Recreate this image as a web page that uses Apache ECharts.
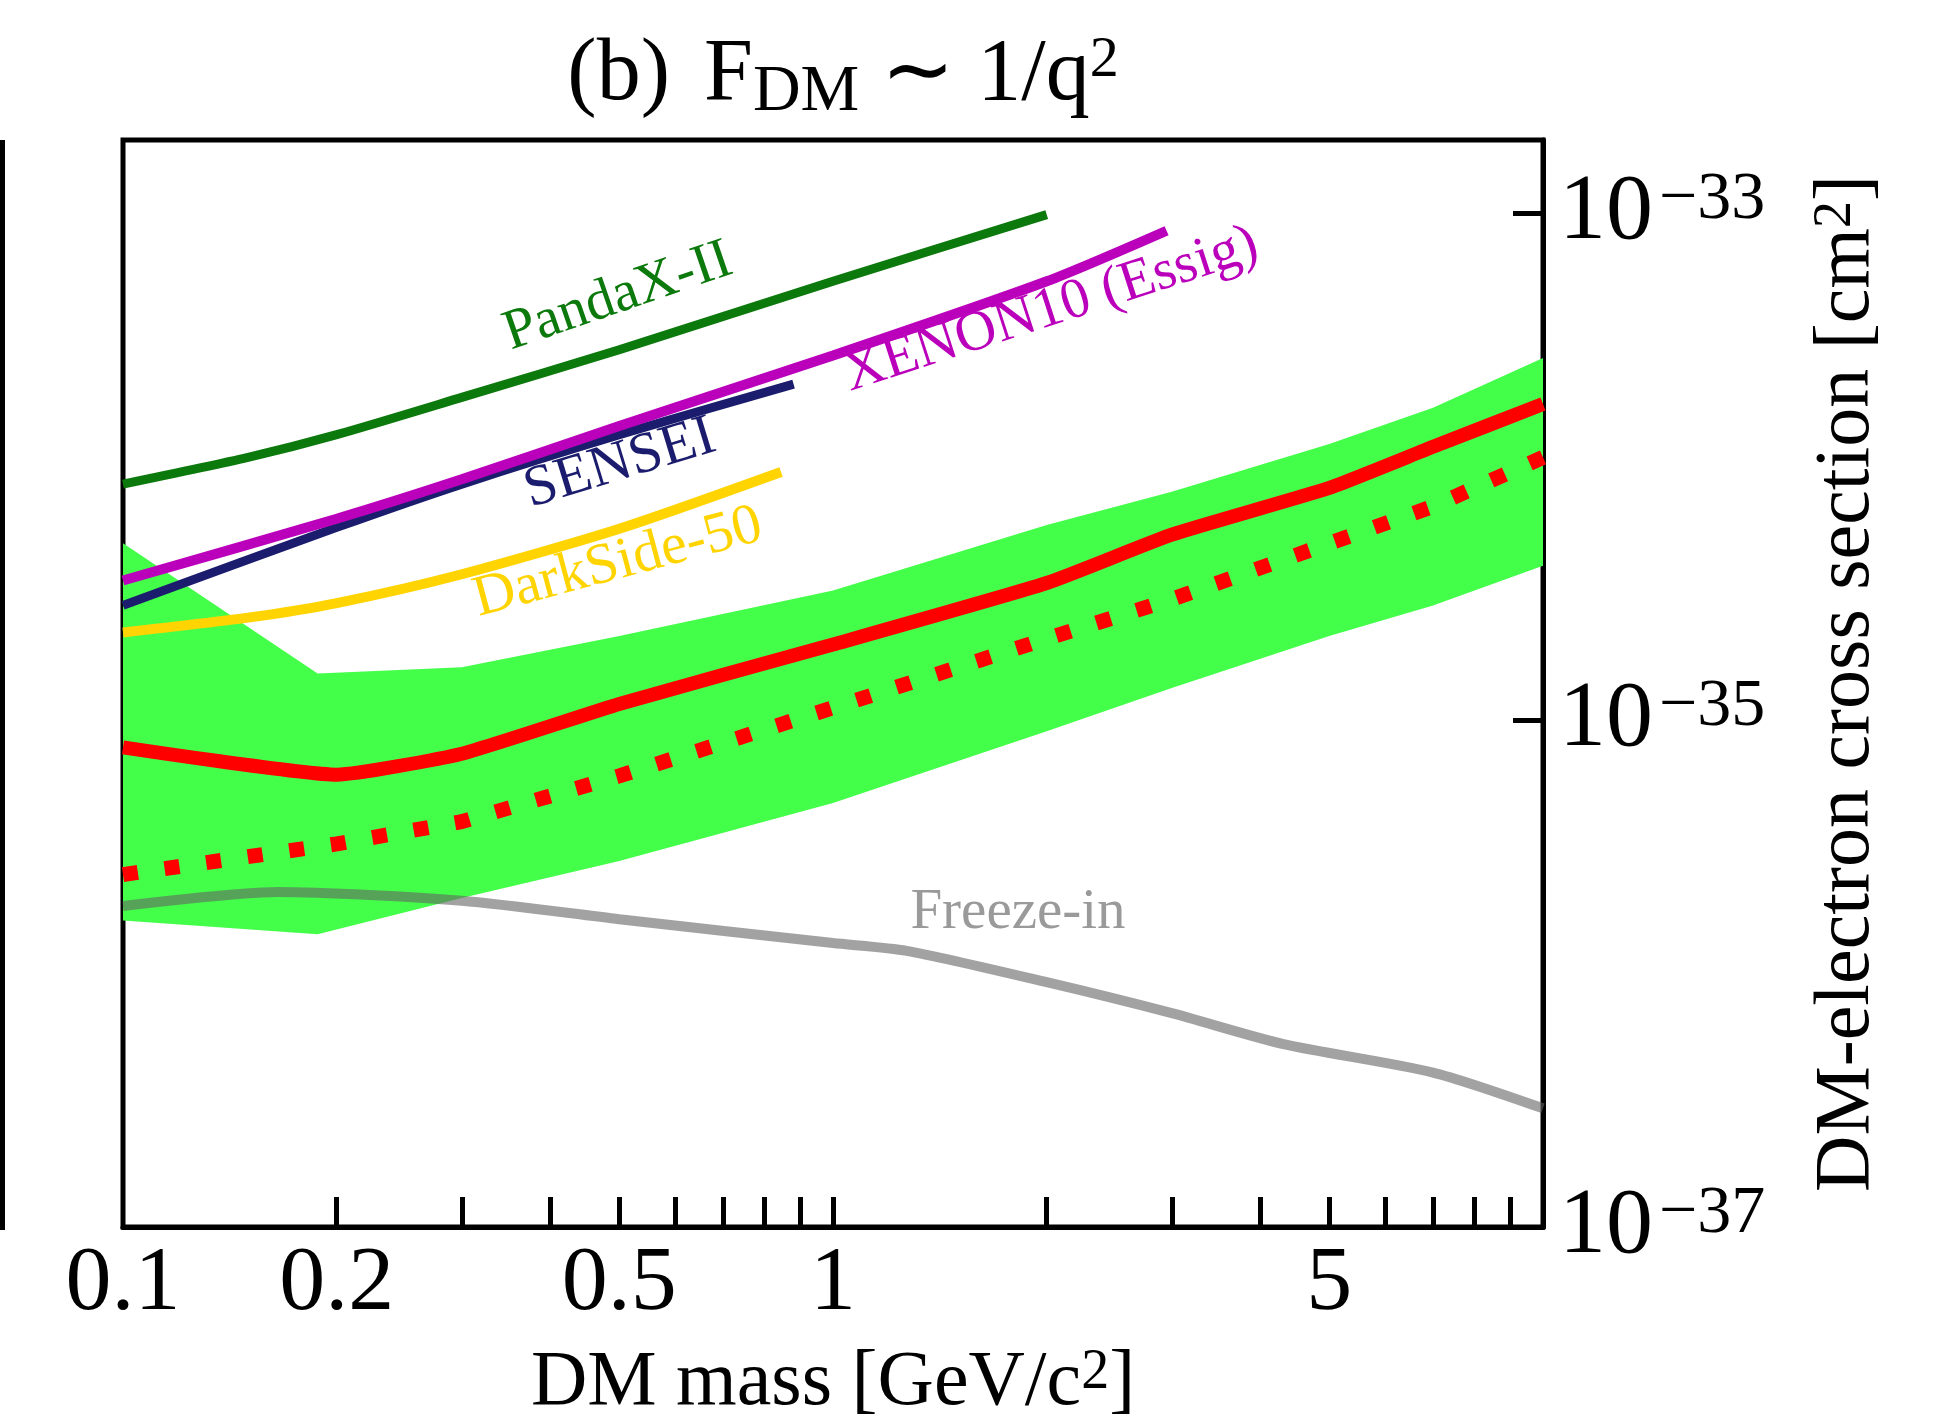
<!DOCTYPE html>
<html>
<head>
<meta charset="utf-8">
<title>DM-electron cross section</title>
<script src="https://cdn.jsdelivr.net/npm/echarts@6/dist/echarts.min.js"></script>
<style>
    html, body { margin: 0; padding: 0; background: #fff; }
    #chart { width: 1939px; height: 1424px; }
</style>
</head>
<body>
<div id="chart"></div>
<script>
// DM mass [GeV/c^2] vs cross section [cm^2]
const pandaxMass = [0.1, 0.15, 0.2, 0.3, 0.5, 1, 2]
const pandaxSigma = [8.55e-35, 1.09e-34, 1.34e-34, 1.88e-34, 2.9e-34, 5.4e-34, 9.9e-34]

const xenonMass = [0.1, 0.2, 0.3, 0.5, 1, 2, 2.95]
const xenonSigma = [3.56e-35, 6.24e-35, 8.93e-35, 1.45e-34, 2.75e-34, 5.4e-34, 8.55e-34]

const senseiMass = [0.1, 0.2, 0.3, 0.5, 0.88]
const senseiSigma = [2.84e-35, 5.77e-35, 8.55e-35, 1.34e-34, 2.12e-34]

const darksideMass = [0.1, 0.15, 0.2, 0.3, 0.5, 0.845]
const darksideSigma = [2.22e-35, 2.54e-35, 2.9e-35, 3.77e-35, 5.7e-35, 9.55e-35]

// red solid: limit, red dotted: median sensitivity
const limitMass = [0.1, 0.2, 0.3, 0.5, 1, 2, 3, 5, 7, 10]
const limitSigma = [7.82e-36, 6.1e-36, 7.38e-36, 1.16e-35, 1.99e-35, 3.48e-35, 5.4e-35, 8.26e-35, 1.2e-34, 1.77e-34]
const medianMass = [0.1, 0.2, 0.3, 0.5, 1, 2, 3, 5, 7, 10]
const medianSigma = [2.46e-36, 3.25e-36, 3.98e-36, 6.03e-36, 1.12e-35, 2.1e-35, 3.0e-35, 4.99e-35, 6.98e-35, 1.09e-34]

// green band
const bandUpMass = [0.1, 0.188, 0.3, 0.5, 1, 2, 3, 5, 7, 10]
const bandUpSigma = [4.99e-35, 1.53e-35, 1.62e-35, 2.15e-35, 3.25e-35, 5.9e-35, 7.98e-35, 1.23e-34, 1.71e-34, 2.69e-34]
const bandLowMass = [0.1, 0.188, 0.3, 0.5, 1, 2, 3, 5, 7, 10]
const bandLowSigma = [1.62e-36, 1.43e-36, 1.99e-36, 2.78e-36, 4.71e-36, 9.04e-36, 1.34e-35, 2.15e-35, 2.84e-35, 4.07e-35]

const freezeMass = [0.1, 0.165, 0.3, 0.5, 1, 1.27, 2, 3, 4.31, 7, 10]
const freezeSigma = [1.85e-36, 2.1e-36, 1.94e-36, 1.64e-36, 1.32e-36, 1.23e-36, 9.25e-37, 6.98e-37, 5.27e-37, 4.07e-37, 2.94e-37]

const xTickValues = [0.2, 0.3, 0.4, 0.5, 0.6, 0.7, 0.8, 0.9, 1, 2, 3, 4, 5, 6, 7, 8, 9]
const xLabelValues = [0.1, 0.2, 0.5, 1, 5]
const yTickValues = [1e-33, 1e-35]
const yLabelValues = [1e-33, 1e-35, 1e-37]
const yMin = 1e-37
const yMax = 1.95e-33

// echarts rounds ~1e-37 down to 0, so the y axis runs in units of 1e-37 cm^2
const yUnit = 1e-37
const yUnitExp = -37
const toUnit = v => +(v / yUnit).toPrecision(6)

const serif = '"Liberation Serif", "Times New Roman", serif'

const pairs = (xs, ys) => xs.map((x, i) => [x, toUnit(ys[i])])

function curve(name, xs, ys, color, width, extra) {
    return Object.assign({
        type: 'line',
        name: name,
        data: pairs(xs, ys),
        showSymbol: false,
        symbol: 'none',
        smooth: 0.25,
        silent: true,
        z: 3,
        lineStyle: { color: color, width: width, cap: 'butt' },
    }, extra)
}

function yLabel(v) {
    const e = Math.round(Math.log10(v)) + yUnitExp
    return '{b|10}{s|−' + (-e) + '}'
}

const bandPoints = pairs(bandUpMass, bandUpSigma).concat(pairs(bandLowMass, bandLowSigma).reverse())

const chart = echarts.init(document.getElementById('chart'))

const option = {
    animation: false,
    backgroundColor: '#fff',
    title: {
        text: '{a|(b)}{f|F}{b|DM}{a| ∼ 1/q}{c|2}',
        left: 843,
        top: 32,
        padding: 0,
        textAlign: 'center',
        textStyle: {
            fontWeight: 'normal',
            rich: {
                a: { fontFamily: serif, fontSize: 88, lineHeight: 100, fontWeight: 'normal', color: '#000', verticalAlign: 'top' },
                f: { fontFamily: serif, fontSize: 88, lineHeight: 100, fontWeight: 'normal', color: '#000', verticalAlign: 'top', padding: [0, 0, 0, 34] },
                b: { fontFamily: serif, fontSize: 66, lineHeight: 66, fontWeight: 'normal', color: '#000', verticalAlign: 'top', padding: [28, 0, 0, 0] },
                c: { fontFamily: serif, fontSize: 58, lineHeight: 58, fontWeight: 'normal', color: '#000', verticalAlign: 'top' },
            },
        },
    },
    grid: {
        left: 123,
        top: 140,
        width: 1420,
        height: 1087,
        show: true,
        borderColor: '#000',
        borderWidth: 5,
        backgroundColor: 'transparent',
        containLabel: false,
        outerBoundsMode: 'none',
    },
    xAxis: {
        type: 'log',
        logBase: 10,
        min: 0.1,
        max: 10,
        name: '{a|DM mass [GeV/c}{s|2}{a|]}',
        nameLocation: 'middle',
        nameGap: 118,
        nameTextStyle: {
            rich: {
                a: { fontFamily: serif, fontSize: 78, color: '#000' },
                s: { fontFamily: serif, fontSize: 56, color: '#000', verticalAlign: 'top' },
            },
        },
        axisLine: { show: true, lineStyle: { color: '#000', width: 5 } },
        axisTick: {
            show: true,
            inside: true,
            length: 30,
            customValues: xTickValues,
            lineStyle: { color: '#000', width: 5 },
        },
        axisLabel: {
            customValues: xLabelValues,
            formatter: v => String(+(+v).toPrecision(3)),
            fontFamily: serif,
            fontSize: 92,
            color: '#000',
            margin: 12,
        },
        splitLine: { show: false },
    },
    yAxis: {
        type: 'log',
        logBase: 10,
        position: 'right',
        min: toUnit(yMin),
        max: toUnit(yMax),
        name: '{a|DM-electron cross section [cm}{s|2}{a|]}',
        nameLocation: 'middle',
        nameRotate: 90,
        nameGap: 266,
        nameTextStyle: {
            rich: {
                a: { fontFamily: serif, fontSize: 78, color: '#000' },
                s: { fontFamily: serif, fontSize: 54, color: '#000', verticalAlign: 'top' },
            },
        },
        axisLine: { show: true, lineStyle: { color: '#000', width: 5 } },
        axisTick: {
            show: true,
            inside: true,
            length: 30,
            customValues: yTickValues.map(toUnit),
            lineStyle: { color: '#000', width: 5 },
        },
        axisLabel: {
            customValues: yLabelValues.map(toUnit),
            formatter: yLabel,
            margin: 16,
            rich: {
                b: { fontFamily: serif, fontSize: 94, color: '#000' },
                s: { fontFamily: serif, fontSize: 68, color: '#000', verticalAlign: 'top', padding: [0, 0, 0, 6] },
            },
        },
        splitLine: { show: false },
    },
    series: [
        {
            type: 'custom',
            name: 'band',
            data: bandPoints,
            silent: true,
            z: 1,
            renderItem: (params, api) => {
                if (params.dataIndex !== 0) {
                    return null
                }
                const pts = bandPoints.map(p => api.coord(p))
                return {
                    type: 'polygon',
                    shape: { points: pts },
                    style: { fill: '#44ff4a' },
                }
            },
        },
        curve('Freeze-in', freezeMass, freezeSigma, 'rgba(100,100,100,0.6)', 10, { z: 2 }),
        curve('median', medianMass, medianSigma, '#ff0000', 15, {
            smooth: false,
            lineStyle: { color: '#ff0000', width: 15, type: [15, 27], cap: 'butt' },
        }),
        curve('limit', limitMass, limitSigma, '#ff0000', 14, { smooth: 0.15 }),
        curve('PandaX-II', pandaxMass, pandaxSigma, '#0b790b', 9),
        curve('DarkSide-50', darksideMass, darksideSigma, '#ffd400', 10),
        curve('SENSEI', senseiMass, senseiSigma, '#1c1c6e', 9),
        curve('XENON10 (Essig)', xenonMass, xenonSigma, '#bb00bb', 10),
    ],
    graphic: [
        { type: 'rect', shape: { x: 0, y: 140, width: 5, height: 1090 }, style: { fill: '#000' } },
        {
            type: 'text', x: 618, y: 297, rotation: 19 * Math.PI / 180,
            style: { text: 'PandaX-II', font: '57px ' + serif, fill: '#0b790b', align: 'center', verticalAlign: 'middle' },
        },
        {
            type: 'text', x: 1051, y: 310, rotation: 18 * Math.PI / 180,
            style: { text: 'XENON10 (Essig)', font: '57px ' + serif, fill: '#bb00bb', align: 'center', verticalAlign: 'middle' },
        },
        {
            type: 'text', x: 620, y: 464, rotation: 17 * Math.PI / 180,
            style: { text: 'SENSEI', font: '58px ' + serif, fill: '#1c1c6e', align: 'center', verticalAlign: 'middle' },
        },
        {
            type: 'text', x: 618, y: 563, rotation: 15 * Math.PI / 180,
            style: { text: 'DarkSide-50', font: '58px ' + serif, fill: '#ffd400', align: 'center', verticalAlign: 'middle' },
        },
        {
            type: 'text', x: 1018, y: 913,
            style: { text: 'Freeze-in', font: '57px ' + serif, fill: '#9a9a9a', align: 'center', verticalAlign: 'middle' },
        },
    ],
}

chart.setOption(option)
</script>
</body>
</html>
